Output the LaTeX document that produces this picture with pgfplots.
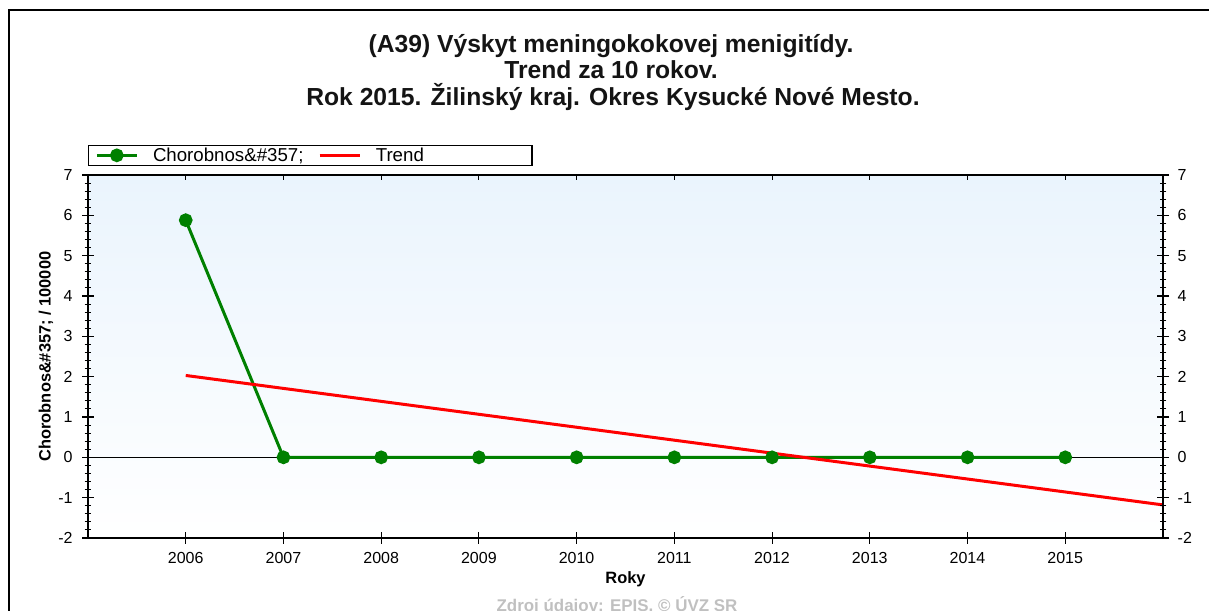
\documentclass[border=0pt]{standalone}
\usepackage{fontspec}
\setmainfont{Liberation Sans}
\usepackage{pgfplots}
\usepackage{pgfplotstable}
\pgfplotsset{compat=1.18}
\definecolor{bgtop}{RGB}{234,244,253}
\definecolor{dgreen}{RGB}{0,128,0}
\definecolor{srcgray}{RGB}{192,192,192}
\definecolor{titlec}{RGB}{20,20,20}

\pgfplotstableread{
x y
2006 5.88
2007 0
2008 0
2009 0
2010 0
2011 0
2012 0
2013 0
2014 0
2015 0
}\datatable
\pgfplotstableread{
x y
2006 2.03
2016 -1.18
}\trendtable

\pgfplotsset{
  common/.style={
    scale only axis, width=806.25pt, height=272.25pt,
    at={(66pt,54pt)}, anchor=south west,
    xmin=2005, xmax=2016, ymin=-2, ymax=7,
    /pgf/number format/assume math mode=true,
    tick label style={font=\fontsize{12}{14}\selectfont},
    axis line style={line width=1.1pt},
    tick style={line width=0.8pt, black},
    major tick length=9pt, minor tick length=5pt,
  },
  greenleg/.style={legend image code/.code={\draw[mark repeat=2, mark phase=2, ##1] plot coordinates {(0pt,4.5pt) (15pt,4.5pt) (30pt,4.5pt)};}},
  redleg/.style={legend image code/.code={\draw[##1] (0pt,4.5pt) -- (30pt,4.5pt);}},
}

\begin{document}
\begin{tikzpicture}[x=0.75pt,y=0.75pt]
\path[use as bounding box] (0,0) rectangle (1209,610);
\draw[line width=1.5pt] (9,-5) -- (9,600) -- (1215,600);

\node[anchor=base, font=\fontsize{18.5}{22}\selectfont\bfseries, text=titlec, inner sep=0pt] at (611,557.5) {(A39) Výskyt meningokokovej menigitídy.};
\node[anchor=base, font=\fontsize{18.5}{22}\selectfont\bfseries, text=titlec, inner sep=0pt] at (611,531) {Trend za 10 rokov.};
\node[anchor=base, font=\fontsize{18.5}{22}\selectfont\bfseries, text=titlec, inner sep=0pt] at (613,504) {Rok 2015. Žilinský kraj. Okres Kysucké Nové Mesto.};

\begin{axis}[common,
  axis background/.style={top color=bgtop, bottom color=white},
  xtick={2006,...,2015}, xtick pos=left, ytick pos=left,
  ytick={-2,...,7}, minor y tick num=4,
  tick align=center,
  xticklabel style={/pgf/number format/1000 sep={}, yshift=-3pt},
  yticklabel style={xshift=-3.5pt},
  xlabel={Roky}, ylabel={Chorobnos\&\#357; / 100000},
  xlabel style={yshift=1.5pt},
  ylabel style={yshift=-12pt},
  label style={font=\fontsize{12.3}{14}\selectfont\bfseries},
  extra y ticks={0}, extra y tick labels={},
  extra y tick style={grid=major, major grid style={black, line width=0.9pt}},
  legend columns=-1,
  legend cell align=left,
  legend style={at={(0,1)}, anchor=south west, yshift=6.75pt,
    draw=black, line width=1pt, inner xsep=5pt, inner ysep=1.5pt,
    font=\fontsize{14}{15}\selectfont,
    nodes={inner sep=0pt, anchor=base west},
    /tikz/every odd column/.append style={column sep=11pt},
    /tikz/every even column/.append style={column sep=11pt}},
]
\addplot[dgreen, line width=2.25pt, mark=*, mark size=4pt, mark options={solid, fill=dgreen, draw=dgreen}, greenleg]
  table[x=x, y=y] {\datatable};
\addlegendentry{Chorobnos\&\#357;}
\addplot[red, line width=2.25pt, no marks, redleg]
  table[x=x, y=y] {\trendtable};
\addlegendentry{Trend\hspace*{76pt}}
\end{axis}

\begin{axis}[common,
  axis x line=none, axis y line*=right,
  ytick={-2,...,7}, minor y tick num=4, tick align=center,
  yticklabel style={xshift=3pt},
]
\end{axis}

\begin{axis}[common,
  axis y line=none, axis x line*=top,
  xtick={2006,...,2015}, xticklabels={}, tick align=inside, major tick length=4pt,
]
\end{axis}

\node[anchor=base, font=\fontsize{12.7}{15}\selectfont\bfseries, text=srcgray, inner sep=0pt] at (617,-1) {Zdroj údajov: EPIS, © ÚVZ SR};
\end{tikzpicture}
\end{document}
